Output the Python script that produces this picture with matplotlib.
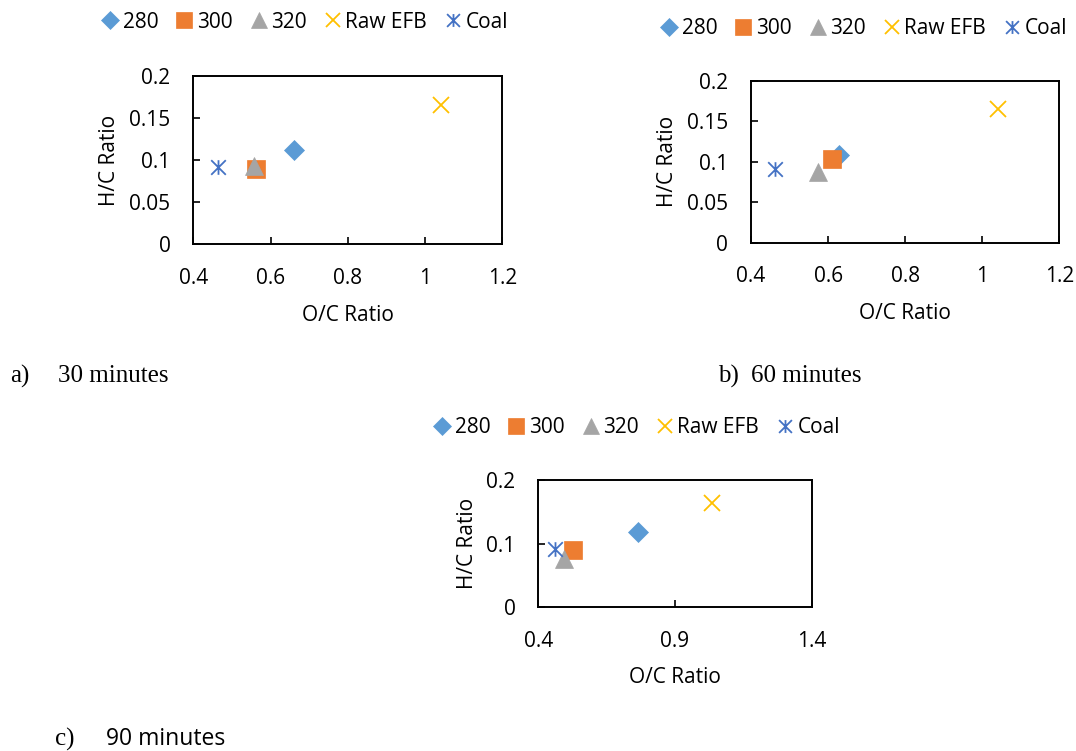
import matplotlib
matplotlib.use("Agg")
import matplotlib.pyplot as plt
from matplotlib.path import Path

# series labels and styling per series
series = ["280", "300", "320", "Raw EFB", "Coal"]
colors = ["#5B9BD5", "#ED7D31", "#A5A5A5", "#FFC000", "#4472C4"]

# O/C and H/C ratios (order follows `series`)
oc_30 = [0.660, 0.562, 0.556, 1.040, 0.465]
hc_30 = [0.112, 0.090, 0.093, 0.166, 0.092]

oc_60 = [0.628, 0.609, 0.575, 1.040, 0.463]
hc_60 = [0.109, 0.103, 0.088, 0.165, 0.091]

oc_90 = [0.765, 0.528, 0.494, 1.035, 0.461]
hc_90 = [0.119, 0.090, 0.076, 0.165, 0.092]

captions = ["30 minutes", "60 minutes", "90 minutes"]

plt.rcParams["font.family"] = ["Open Sans", "DejaVu Sans"]

star = Path([(0, -1), (0, 1), (-1, -1), (1, 1), (-1, 1), (1, -1)],
            [Path.MOVETO, Path.LINETO] * 3)
markers = ["D", "s", "^", "x", star]
msizes = [10.5, 12.8, 12.5, 12.0, 10.5]
fs = 15

W, H = 1076, 751
fig = plt.figure(figsize=(W / 100, H / 100), dpi=100)


def panel(rect, oc, hc, xlim, xticks, ylim, yticks, leg_xy, ylab_x, xlab_y):
    ax = fig.add_axes(rect)
    for i in range(len(series)):
        line_mark = i >= 3
        ax.plot(oc[i], hc[i], linestyle="none", marker=markers[i],
                markersize=msizes[i], color=colors[i], mec=colors[i],
                mew=1.3 if line_mark else 0.5, label=series[i])
    ax.set_xlim(*xlim)
    ax.set_ylim(*ylim)
    ax.set_xticks(xticks)
    ax.set_yticks(yticks)
    ax.set_xticklabels([f"{t:g}" for t in xticks])
    ax.set_yticklabels([f"{t:g}" for t in yticks])
    ax.tick_params(direction="in", length=5, width=1.2, labelsize=fs, pad=16.5)
    ax.tick_params(axis="x", pad=17)
    for s in ax.spines.values():
        s.set_linewidth(1.4)
    ax.set_xlabel("O/C Ratio", fontsize=fs)
    ax.set_ylabel("H/C Ratio", fontsize=fs)
    ax.yaxis.set_label_coords(ylab_x, 0.5)
    ax.xaxis.set_label_coords(0.5, xlab_y)
    ax.legend(loc="center", bbox_to_anchor=leg_xy, bbox_transform=fig.transFigure,
              ncol=5, frameon=False, fontsize=fs, handlelength=0.8,
              handletextpad=0.2, columnspacing=0.85, markerscale=0.88,
              borderaxespad=0, borderpad=0)
    return ax


panel([193.3 / W, 1 - 244.3 / H, 309 / W, 168.3 / H], oc_30, hc_30,
      (0.4, 1.2), [0.4, 0.6, 0.8, 1.0, 1.2], (0, 0.2),
      [0, 0.05, 0.1, 0.15, 0.2], (305 / W, 1 - 22 / H), -0.237, -0.36)
panel([751 / W, 1 - 242.7 / H, 308.3 / W, 161.7 / H], oc_60, hc_60,
      (0.4, 1.2), [0.4, 0.6, 0.8, 1.0, 1.2], (0, 0.2),
      [0, 0.05, 0.1, 0.15, 0.2], (864 / W, 1 - 29 / H), -0.236, -0.373)
panel([538.3 / W, 1 - 607.3 / H, 273.3 / W, 127 / H], oc_90, hc_90,
      (0.4, 1.4), [0.4, 0.9, 1.4], (0, 0.2),
      [0, 0.1, 0.2], (637 / W, 1 - 428 / H), -0.222, -0.47)

serif = ["Liberation Serif", "DejaVu Serif"]
cap = 18
fig.text(10 / W, 1 - 376 / H, "a)", family=serif, fontsize=cap, va="center")
fig.text(58 / W, 1 - 376 / H, captions[0], family=serif, fontsize=cap, va="center")
fig.text(718 / W, 1 - 376 / H, "b)", family=serif, fontsize=cap, va="center")
fig.text(751 / W, 1 - 376 / H, captions[1], family=serif, fontsize=cap, va="center")
fig.text(55 / W, 1 - 739 / H, "c)", family=serif, fontsize=cap, va="center")
fig.text(106 / W, 1 - 739 / H, captions[2], fontsize=16.5, va="center")

fig.savefig("out.png", dpi=100)
